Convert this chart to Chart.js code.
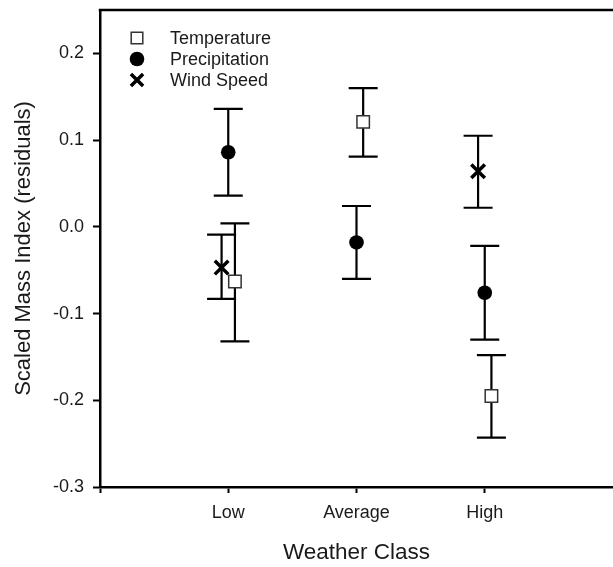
<!DOCTYPE html>
<html><head><meta charset="utf-8">
<script src="https://cdn.jsdelivr.net/npm/chart.js@4"></script>
<style>html,body{margin:0;padding:0;background:#fff;overflow:hidden}</style>
</head><body>
<canvas id="c" width="613" height="567" style="display:block;width:613px;height:567px"></canvas>
<script>
// ---- data ----
const categories = ['Low', 'Average', 'High'];
const seriesNames = ['Temperature', 'Precipitation', 'Wind Speed'];
const temperature      = [-0.063, 0.121, -0.195];
const temperatureUpper = [ 0.004, 0.160, -0.148];
const temperatureLower = [-0.132, 0.081, -0.243];
const precipitation      = [ 0.086, -0.018, -0.076];
const precipitationUpper = [ 0.136,  0.024, -0.022];
const precipitationLower = [ 0.036, -0.060, -0.130];
const windSpeed      = [-0.047, null, 0.064];
const windSpeedUpper = [-0.009, null, 0.105];
const windSpeedLower = [-0.083, null, 0.022];
const yTicks = [-0.3, -0.2, -0.1, 0.0, 0.1, 0.2];
const xTicks = [0, 1, 2, 3];

// ---- styles ----
const FONT = '"Liberation Sans", Arial, sans-serif';
const TXT = '#1a1a1a';
const dodge = [0.052, 0, -0.052];
const styles = [
  {pointStyle: 'rect', pointRadius: 8.8, backgroundColor: '#ffffff', borderColor: '#333333', borderWidth: 1.5},
  {pointStyle: 'circle', pointRadius: 7.3, backgroundColor: '#000000', borderColor: '#000000', borderWidth: 0},
  {pointStyle: 'crossRot', pointRadius: 9.6, backgroundColor: '#000000', borderColor: '#000000', borderWidth: 3.5}
];

function build(vals, up, lo, off) {
  const out = [];
  categories.forEach((c, i) => {
    if (vals[i] === null || vals[i] === undefined) return;
    out.push({x: i + 1 + off, y: vals[i], yMax: up[i], yMin: lo[i]});
  });
  return out;
}
const seriesData = [
  build(temperature, temperatureUpper, temperatureLower, dodge[0]),
  build(precipitation, precipitationUpper, precipitationLower, dodge[1]),
  build(windSpeed, windSpeedUpper, windSpeedLower, dodge[2])
];

const datasets = seriesNames.map((name, k) => Object.assign({
  label: name, data: seriesData[k], showLine: false,
  pointHoverRadius: styles[k].pointRadius
}, styles[k]));

// error bars drawn beneath markers
const errorBars = {
  id: 'errorBars',
  beforeDatasetsDraw(chart) {
    const ctx = chart.ctx, xs = chart.scales.x, ys = chart.scales.y;
    ctx.save();
    ctx.strokeStyle = '#000';
    ctx.lineWidth = 2.2;
    const half = 14.5;
    chart.data.datasets.forEach(ds => {
      ds.data.forEach(p => {
        const px = xs.getPixelForValue(p.x);
        const y1 = ys.getPixelForValue(p.yMax);
        const y2 = ys.getPixelForValue(p.yMin);
        ctx.beginPath();
        ctx.moveTo(px, y1); ctx.lineTo(px, y2);
        ctx.moveTo(px - half, y1); ctx.lineTo(px + half, y1);
        ctx.moveTo(px - half, y2); ctx.lineTo(px + half, y2);
        ctx.stroke();
      });
    });
    ctx.restore();
  }
};

function drawMarker(ctx, st, x, y) {
  ctx.save();
  if (st.pointStyle === 'rect') {
    const s = st.pointRadius * Math.SQRT1_2;
    ctx.fillStyle = st.backgroundColor; ctx.strokeStyle = st.borderColor; ctx.lineWidth = st.borderWidth;
    ctx.beginPath(); ctx.rect(x - s, y - s, 2 * s, 2 * s); ctx.fill(); ctx.stroke();
  } else if (st.pointStyle === 'circle') {
    ctx.fillStyle = st.backgroundColor;
    ctx.beginPath(); ctx.arc(x, y, st.pointRadius, 0, Math.PI * 2); ctx.fill();
  } else {
    const s = st.pointRadius * Math.SQRT1_2;
    ctx.strokeStyle = st.borderColor; ctx.lineWidth = st.borderWidth;
    ctx.beginPath();
    ctx.moveTo(x - s, y - s); ctx.lineTo(x + s, y + s);
    ctx.moveTo(x - s, y + s); ctx.lineTo(x + s, y - s);
    ctx.stroke();
  }
  ctx.restore();
}

const frameAndLegend = {
  id: 'frameAndLegend',
  afterDraw(chart) {
    const ctx = chart.ctx, a = chart.chartArea;
    ctx.save();
    ctx.strokeStyle = '#000'; ctx.lineWidth = 2.5;
    ctx.beginPath(); ctx.moveTo(a.left - 1.25, a.top); ctx.lineTo(a.right + 2, a.top); ctx.stroke();
    // legend
    ctx.font = '18px ' + FONT;
    ctx.fillStyle = TXT;
    ctx.textBaseline = 'middle';
    ctx.textAlign = 'left';
    chart.data.datasets.forEach((ds, k) => {
      const y = a.top + 28 + k * 21;
      const st = Object.assign({}, styles[k]);
      if (k === 0) st.pointRadius = 8.2;
      if (k === 2) st.pointRadius = 8.6;
      drawMarker(ctx, st, a.left + 37, y);
      ctx.fillStyle = TXT;
      ctx.fillText(ds.label, a.left + 70, y + 1);
    });
    ctx.restore();
  }
};

new Chart(document.getElementById('c'), {
  type: 'scatter',
  data: {datasets},
  options: {
    responsive: false,
    animation: false,
    devicePixelRatio: 1,
    layout: {autoPadding: false, padding: {left: 0, top: 10, right: 0, bottom: 0}},
    plugins: {legend: {display: false}, tooltip: {enabled: false}},
    scales: {
      x: {
        type: 'linear', min: 0, max: 4,
        afterBuildTicks: s => { s.ticks = xTicks.map(v => ({value: v})); },
        afterFit: s => { s.height = 80; s.paddingLeft = 0; s.paddingRight = 0; },
        grid: {display: true, drawOnChartArea: false, drawTicks: true, tickLength: 6, tickColor: '#000', tickWidth: 2},
        border: {display: true, color: '#000', width: 2.5},
        ticks: {
          autoSkip: false, maxRotation: 0, padding: 9, color: TXT,
          font: {family: FONT, size: 18},
          callback: v => (categories[v - 1] !== undefined ? categories[v - 1] : '')
        },
        title: {display: true, text: 'Weather Class', color: TXT, font: {family: FONT, size: 22.5}, padding: {top: 0, bottom: 1}}
      },
      y: {
        type: 'linear', min: -0.3, max: 0.25,
        afterBuildTicks: s => { s.ticks = yTicks.map(v => ({value: v})); },
        afterFit: s => { s.width = 100; s.paddingTop = 0; s.paddingBottom = 0; },
        grid: {display: true, drawOnChartArea: false, drawTicks: true, tickLength: 7, tickColor: '#000', tickWidth: 2},
        border: {display: true, color: '#000', width: 2.5},
        ticks: {
          padding: 9, color: TXT, font: {family: FONT, size: 18},
          callback: v => Number(v).toFixed(1)
        },
        title: {display: true, text: 'Scaled Mass Index (residuals)', color: TXT, font: {family: FONT, size: 22}, padding: {top: 11, bottom: 0}}
      }
    }
  },
  plugins: [errorBars, frameAndLegend]
});
</script>
</body></html>
